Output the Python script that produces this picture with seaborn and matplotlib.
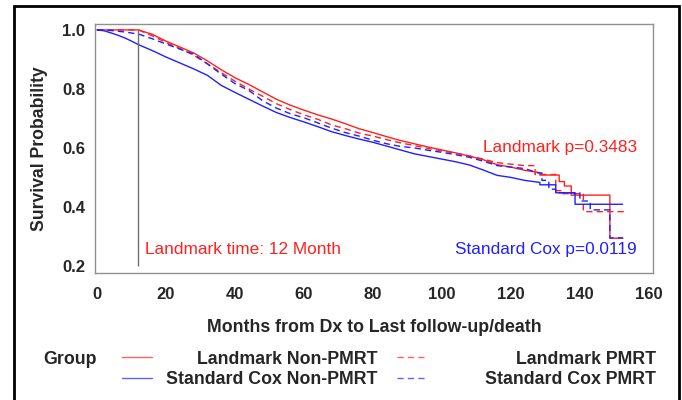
import matplotlib
matplotlib.use("Agg")
import matplotlib.pyplot as plt
from matplotlib.lines import Line2D
from matplotlib.patches import Rectangle
import pandas as pd
import seaborn as sns

# Datos (meses, supervivencia); los meses repetidos marcan los escalones
mesesLandmarkNo = [0, 12, 16, 20, 24, 28, 32, 36, 40, 44, 48, 52, 56, 60, 64, 68, 72, 76, 80, 84, 88,
                   92, 96, 100, 104, 108, 112, 116, 120, 124, 128.4, 128.4, 134, 134, 135.5, 135.5,
                   137.5, 137.5, 148.7, 148.7, 152.5]
survLandmarkNo = [1.0, 1.0, 0.985, 0.962, 0.942, 0.922, 0.895, 0.865, 0.838, 0.815, 0.79, 0.765, 0.745,
                  0.728, 0.712, 0.698, 0.682, 0.665, 0.652, 0.638, 0.625, 0.614, 0.603, 0.593, 0.583,
                  0.572, 0.56, 0.543, 0.535, 0.524, 0.516, 0.508, 0.508, 0.486, 0.486, 0.471,
                  0.471, 0.44, 0.44, 0.294, 0.294]

mesesLandmarkSi = [0, 12, 16, 20, 24, 28, 32, 36, 40, 44, 48, 52, 56, 60, 64, 68, 72, 76, 80, 84, 88,
                   92, 96, 100, 104, 108, 112, 116, 120, 124, 127, 127, 133, 133, 135, 135, 141, 141, 153]
survLandmarkSi = [1.0, 1.0, 0.98, 0.957, 0.937, 0.914, 0.885, 0.855, 0.826, 0.8, 0.775, 0.75, 0.73,
                  0.712, 0.697, 0.678, 0.665, 0.65, 0.64, 0.628, 0.617, 0.608, 0.598, 0.59, 0.582,
                  0.573, 0.562, 0.55, 0.545, 0.54, 0.54, 0.51, 0.51, 0.455, 0.455, 0.445, 0.445, 0.384, 0.384]

mesesCoxNo = [0, 2, 4, 6, 8, 10, 12, 16, 20, 24, 28, 32, 36, 40, 44, 48, 52, 56, 60, 64, 68, 72, 76, 80,
              84, 88, 92, 96, 100, 104, 108, 112, 116, 120, 124, 128.4, 128.4, 133, 133, 138.6, 138.6, 152.4]
survCoxNo = [1.0, 0.997, 0.99, 0.982, 0.973, 0.962, 0.95, 0.93, 0.908, 0.888, 0.868, 0.846, 0.812,
             0.788, 0.765, 0.742, 0.72, 0.703, 0.688, 0.672, 0.655, 0.642, 0.63, 0.619, 0.606, 0.593,
             0.58, 0.571, 0.562, 0.553, 0.542, 0.525, 0.507, 0.5, 0.49, 0.483, 0.475, 0.475, 0.448,
             0.448, 0.409, 0.409]

mesesCoxSi = [0, 4, 8, 12, 16, 20, 24, 28, 32, 36, 40, 44, 48, 52, 56, 60, 64, 68, 72, 76, 80, 84, 88,
              92, 96, 100, 104, 108, 112, 116, 120, 124, 128, 129, 129, 131, 131, 133, 133, 140, 140,
              143, 143, 148.7, 148.7, 152.5]
survCoxSi = [1.0, 0.998, 0.993, 0.986, 0.97, 0.952, 0.935, 0.918, 0.885, 0.85, 0.818, 0.795, 0.76,
             0.735, 0.716, 0.702, 0.685, 0.667, 0.652, 0.64, 0.626, 0.614, 0.605, 0.6, 0.592, 0.585,
             0.577, 0.568, 0.555, 0.54, 0.535, 0.53, 0.515, 0.515, 0.49, 0.49, 0.46, 0.46, 0.448,
             0.448, 0.42, 0.42, 0.39, 0.39, 0.295, 0.295]

grupos = ["Landmark Non-PMRT", "Landmark PMRT", "Standard Cox Non-PMRT", "Standard Cox PMRT"]
colores = {"Landmark Non-PMRT": "#ff2020", "Landmark PMRT": "#ff2020",
           "Standard Cox Non-PMRT": "#2020ff", "Standard Cox PMRT": "#2020ff"}
guiones = {"Landmark Non-PMRT": "", "Landmark PMRT": (4.5, 3),
           "Standard Cox Non-PMRT": "", "Standard Cox PMRT": (4.5, 3)}

# Tabla larga para seaborn
tablas = []
for g, m, s in zip(grupos, [mesesLandmarkNo, mesesLandmarkSi, mesesCoxNo, mesesCoxSi],
                   [survLandmarkNo, survLandmarkSi, survCoxNo, survCoxSi]):
    tablas.append(pd.DataFrame({"mes": m, "surv": s, "grupo": g}))
datos = pd.concat(tablas, ignore_index=True)

sns.set_style("white")
plt.rcParams['font.family'] = ['Liberation Sans', 'DejaVu Sans']

fig = plt.figure(figsize=(6.82, 4.0), dpi=100)
ax = fig.add_axes([95 / 682, 1 - 273 / 400, (653 - 95) / 682, (273 - 24) / 400])

sns.lineplot(data=datos, x="mes", y="surv", hue="grupo", style="grupo", palette=colores,
             dashes=guiones, estimator=None, sort=False, linewidth=1,
             legend=False, ax=ax)

# Linea del tiempo landmark
ax.vlines(12, 0.2, 1.0, color="#707070", linewidth=1)

ax.set_xlim(-0.6, 161.2)
ax.set_ylim(0.176, 1.02)
ax.set_xticks([0, 20, 40, 60, 80, 100, 120, 140, 160])
ax.set_yticks([0.2, 0.4, 0.6, 0.8, 1.0])
ax.set_yticklabels(["0.2", "0.4", "0.6", "0.8", "1.0"])
ax.tick_params(axis="x", direction="out", length=4, width=1, color="#909090", labelsize=12, pad=6)
ax.tick_params(axis="y", direction="out", length=4, width=1, color="#909090", labelsize=12, pad=3)
for lab in ax.get_xticklabels() + ax.get_yticklabels():
    lab.set_fontweight("bold")
for sp in ax.spines.values():
    sp.set_color("#909090")
    sp.set_linewidth(1)

ax.set_xlabel("Months from Dx to Last follow-up/death", fontsize=12.8, fontweight="bold", labelpad=12)
ax.set_ylabel("Survival Probability", fontsize=12.7, fontweight="bold", labelpad=10)

ax.text(13.9, 0.254, "Landmark time: 12 Month", color="#ff2020", fontsize=12.4, va="center")
ax.text(156.5, 0.603, "Landmark p=0.3483", color="#ff2020", fontsize=12.4, va="center", ha="right")
ax.text(156.5, 0.254, "Standard Cox p=0.0119", color="#2020ff", fontsize=12.4, va="center", ha="right")

# Leyenda manual
W, H = 682, 400
fig.text(43 / W, 1 - 359 / H, "Group", fontsize=12.8, fontweight="bold", va="center")
filas = [(357, "Landmark Non-PMRT", "Landmark PMRT", "#ff6060"),
         (378, "Standard Cox Non-PMRT", "Standard Cox PMRT", "#6060ff")]
for yy, lab1, lab2, col in filas:
    fy = 1 - yy / H
    fig.add_artist(Line2D([122 / W, 152 / W], [fy, fy], color=col, linewidth=1,
                          transform=fig.transFigure))
    fig.add_artist(Line2D([397 / W, 428 / W], [fy, fy], color=col, linewidth=1,
                          dashes=(4.5, 3), transform=fig.transFigure))
    fig.text(378 / W, fy - 2 / H, lab1, fontsize=12.8, fontweight="bold", va="center", ha="right")
    fig.text(656 / W, fy - 2 / H, lab2, fontsize=12.8, fontweight="bold", va="center", ha="right")

# Marco exterior
fig.add_artist(Rectangle((14 / W, -0.01), (679 - 14) / W, 1 - 6 / H + 0.01, fill=False,
                         edgecolor="black", linewidth=2, transform=fig.transFigure))

fig.savefig("out.png", dpi=100)
